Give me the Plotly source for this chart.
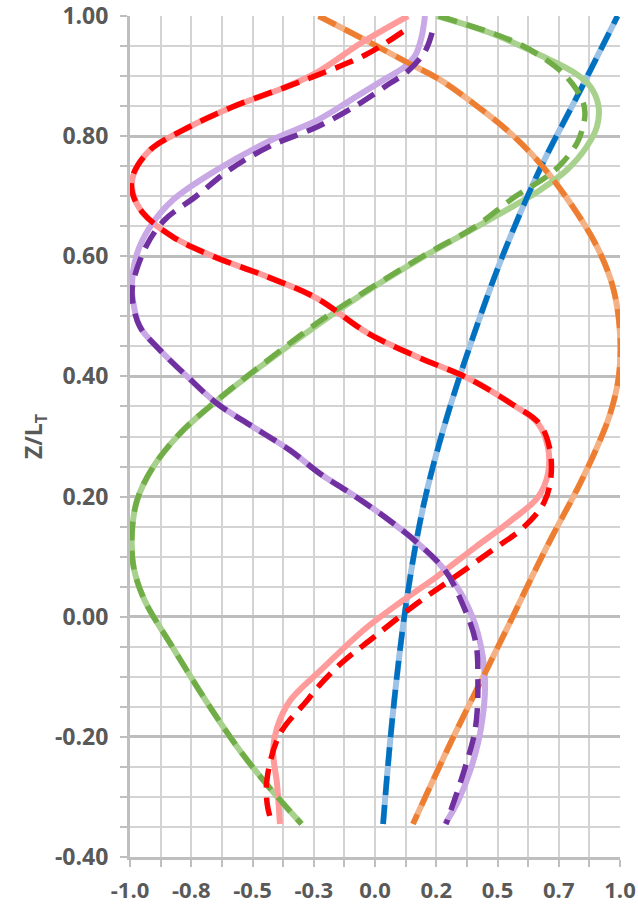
import plotly.graph_objects as go

# ---------------- data ----------------
# Blue pair
z_blue = [-0.345, -0.161, 0.033, 0.189, 0.333, 0.475, 0.605, 0.744, 0.882, 1.00]
x_blue_solid = [0.033, 0.073, 0.131, 0.200, 0.294, 0.408, 0.525, 0.672, 0.845, 0.99]
x_blue_dash = [0.033, 0.073, 0.131, 0.200, 0.294, 0.408, 0.525, 0.672, 0.845, 0.99]

# Orange pair
z_orange = [1.00, 0.96, 0.922, 0.894, 0.855, 0.81, 0.755, 0.682, 0.616, 0.549, 0.472, 0.40, 0.338,
            0.282, 0.216, 0.139, 0.066, -0.006, -0.078, -0.207, -0.345]
x_orange_solid = [-0.23, -0.04, 0.135, 0.265, 0.40, 0.539, 0.673, 0.808, 0.906, 0.971, 1.0, 0.995, 0.96,
                  0.906, 0.83, 0.73, 0.64, 0.555, 0.468, 0.312, 0.155]
x_orange_dash = [-0.23, -0.04, 0.135, 0.265, 0.40, 0.539, 0.673, 0.808, 0.906, 0.971, 1.0, 0.995, 0.96,
                 0.906, 0.83, 0.73, 0.64, 0.555, 0.468, 0.312, 0.155]

# Green pair
z_green_solid = [1.00, 0.972, 0.935, 0.907, 0.883, 0.85, 0.816, 0.783, 0.744, 0.71, 0.688, 0.638, 0.594, 0.532,
                 0.489, 0.416, 0.36, 0.305, 0.249, 0.194, 0.139, 0.082, 0.027, -0.045, -0.14, -0.218, -0.285, -0.345]
x_green_solid = [0.253, 0.469, 0.673, 0.808, 0.878, 0.912, 0.906, 0.865, 0.784, 0.673, 0.584, 0.367, 0.176, -0.07,
                 -0.224, -0.469, -0.645, -0.796, -0.906, -0.971, -0.992, -0.985, -0.94, -0.835, -0.69, -0.56, -0.43, -0.30]
z_green_dash = [1.00, 0.955, 0.916, 0.888, 0.857, 0.838, 0.816, 0.788, 0.755, 0.733, 0.699, 0.649, 0.605, 0.544,
                0.495, 0.42, 0.36, 0.305, 0.249, 0.194, 0.139, 0.082, 0.027, -0.045, -0.14, -0.218, -0.285, -0.345]
x_green_dash = [0.26, 0.58, 0.735, 0.804, 0.849, 0.857, 0.849, 0.824, 0.763, 0.702, 0.571, 0.408, 0.216, -0.03,
                -0.215, -0.46, -0.645, -0.796, -0.906, -0.971, -0.992, -0.985, -0.94, -0.835, -0.69, -0.56, -0.43, -0.30]

# Red pair
z_red_solid = [1.00, 0.955, 0.907, 0.88, 0.849, 0.81, 0.777, 0.733, 0.705, 0.672, 0.632, 0.60, 0.566, 0.53,
               0.472, 0.432, 0.397, 0.355, 0.322, 0.282, 0.238, 0.199, 0.16, 0.116, 0.066, 0.027, -0.02,
               -0.09, -0.14, -0.185, -0.223, -0.278, -0.345]
x_red_solid = [0.135, -0.057, -0.233, -0.375, -0.58, -0.784, -0.918, -0.988, -0.988, -0.947, -0.824, -0.661, -0.44, -0.237,
               -0.029, 0.176, 0.38, 0.555, 0.665, 0.706, 0.706, 0.665, 0.555, 0.41, 0.25, 0.114, -0.04,
               -0.224, -0.347, -0.40, -0.416, -0.40, -0.388]
z_red_dash = [0.974, 0.935, 0.902, 0.88, 0.849, 0.81, 0.777, 0.733, 0.705, 0.672, 0.632, 0.60, 0.566, 0.53,
              0.472, 0.432, 0.397, 0.355, 0.322, 0.282, 0.232, 0.19, 0.15, 0.111, 0.066, 0.022, -0.035, -0.078,
              -0.117, -0.14, -0.195, -0.268, -0.312, -0.345]
x_red_dash = [0.114, -0.04, -0.233, -0.375, -0.58, -0.784, -0.918, -0.99, -0.99, -0.947, -0.824, -0.661, -0.44, -0.237,
              -0.029, 0.176, 0.38, 0.555, 0.67, 0.712, 0.718, 0.69, 0.61, 0.48, 0.325, 0.171, -0.008, -0.139,
              -0.233, -0.278, -0.388, -0.44, -0.44, -0.42]

# Purple pair
z_purple_solid = [1.00, 0.965, 0.935, 0.915, 0.895, 0.865, 0.827, 0.794, 0.744, 0.694, 0.649, 0.605, 0.555, 0.527,
                  0.483, 0.444, 0.40, 0.355, 0.316, 0.277, 0.238, 0.205, 0.166, 0.122, 0.077, 0.027, -0.028,
                  -0.106, -0.185, -0.252, -0.307, -0.345]
x_purple_solid = [0.204, 0.19, 0.165, 0.12, 0.04, -0.08, -0.233, -0.42, -0.645, -0.824, -0.918, -0.971, -0.992, -0.988,
                  -0.96, -0.878, -0.767, -0.645, -0.498, -0.347, -0.224, -0.098, 0.04, 0.176, 0.286, 0.367, 0.42,
                  0.449, 0.433, 0.392, 0.339, 0.286]
z_purple_dash = [0.972, 0.941, 0.907, 0.888, 0.855, 0.816, 0.783, 0.745, 0.70, 0.66, 0.616, 0.555, 0.527,
                 0.483, 0.444, 0.40, 0.355, 0.316, 0.277, 0.238, 0.205, 0.166, 0.122, 0.077, 0.027, -0.04,
                 -0.106, -0.185, -0.252, -0.345]
x_purple_dash = [0.233, 0.204, 0.131, 0.061, -0.06, -0.233, -0.43, -0.59, -0.73, -0.86, -0.935, -0.988, -0.99,
                 -0.96, -0.878, -0.767, -0.645, -0.498, -0.347, -0.224, -0.098, 0.04, 0.176, 0.286, 0.351, 0.41,
                 0.42, 0.41, 0.367, 0.29]

# ---------------- ticks ----------------
x_tickvals = [-1.0, -0.75, -0.5, -0.25, 0.0, 0.25, 0.5, 0.75, 1.0]
x_ticktext = ["-1.0", "-0.8", "-0.5", "-0.3", "0.0", "0.2", "0.5", "0.7", "1.0"]
x_minor_vals = [-0.875, -0.625, -0.375, -0.125, 0.125, 0.375, 0.625, 0.875]
y_tickvals = [-0.4, -0.2, 0.0, 0.2, 0.4, 0.6, 0.8, 1.0]
y_ticktext = ["-0.40", "-0.20", "0.00", "0.20", "0.40", "0.60", "0.80", "1.00"]
y_minor_vals = [-0.35, -0.3, -0.25, -0.15, -0.1, -0.05, 0.05, 0.1, 0.15, 0.25, 0.3, 0.35,
                0.45, 0.5, 0.55, 0.65, 0.7, 0.75, 0.85, 0.9, 0.95]

# ---------------- styles ----------------
pairs = [
    (x_blue_solid, z_blue, x_blue_dash, z_blue, "#9DC3E6", "#0070C0"),
    (x_orange_solid, z_orange, x_orange_dash, z_orange, "#F4B183", "#ED7D31"),
    (x_green_solid, z_green_solid, x_green_dash, z_green_dash, "#A9D18E", "#70AD47"),
    (x_red_solid, z_red_solid, x_red_dash, z_red_dash, "#FF9B9B", "#FF0000"),
    (x_purple_solid, z_purple_solid, x_purple_dash, z_purple_dash, "#C9A8E6", "#7030A0"),
]

fig = go.Figure()
for xs, zs, xd, zd, c_light, c_dark in pairs:
    fig.add_trace(go.Scatter(x=xs, y=zs, mode="lines",
                             line=dict(color=c_light, width=6, shape="spline", smoothing=1.0),
                             showlegend=False, hoverinfo="skip"))
for xs, zs, xd, zd, c_light, c_dark in pairs:
    fig.add_trace(go.Scatter(x=xd, y=zd, mode="lines",
                             line=dict(color=c_dark, width=5.5, dash="19px,10px", shape="spline", smoothing=1.0),
                             showlegend=False, hoverinfo="skip"))

font_main = dict(family="Open Sans, Liberation Sans, Arial, sans-serif", size=23, color="#595959", weight=700)
font_x = dict(family="Open Sans, Liberation Sans, Arial, sans-serif", size=22, color="#595959", weight=700)

fig.update_layout(
    width=638, height=905,
    margin=dict(l=130, r=18, t=16, b=48, autoexpand=False),
    paper_bgcolor="white", plot_bgcolor="white",
    showlegend=False,
    font=font_main,
)
fig.update_xaxes(
    range=[-1.0, 1.0], automargin=False,
    tickmode="array", tickvals=x_tickvals, ticktext=x_ticktext,
    tickfont=font_x, ticklabeloverflow="allow",
    showgrid=True, gridcolor="#D3D3D3", gridwidth=2,
    ticks="outside", ticklen=7, tickwidth=2, tickcolor="#BFBFBF",
    minor=dict(tickmode="array", tickvals=x_minor_vals, showgrid=True, gridcolor="#D3D3D3", gridwidth=2,
               ticks="outside", ticklen=7, tickwidth=2, tickcolor="#BFBFBF"),
    showline=True, linecolor="#BFBFBF", linewidth=3,
    zeroline=False,
    ticklabelstandoff=5,
)
fig.update_yaxes(
    range=[-0.4, 1.0], automargin=False,
    tickmode="array", tickvals=y_tickvals, ticktext=y_ticktext,
    tickfont=font_main, ticklabeloverflow="allow",
    showgrid=True, gridcolor="#BDBDBD", gridwidth=2.5,
    ticks="outside", ticklen=7, tickwidth=2, tickcolor="#BFBFBF",
    minor=dict(tickmode="array", tickvals=y_minor_vals, showgrid=True, gridcolor="#D3D3D3", gridwidth=2,
               ticks="outside", ticklen=7, tickwidth=2, tickcolor="#BFBFBF"),
    showline=True, linecolor="#BFBFBF", linewidth=3,
    zeroline=False,
    ticklabelstandoff=7,
    title=dict(text="Z/L<sub>T</sub>", font=font_main, standoff=6),
)

fig.write_html("out.html", config={"displayModeBar": False},
               post_script="document.body.style.margin='0px';document.body.style.overflow='hidden';")
